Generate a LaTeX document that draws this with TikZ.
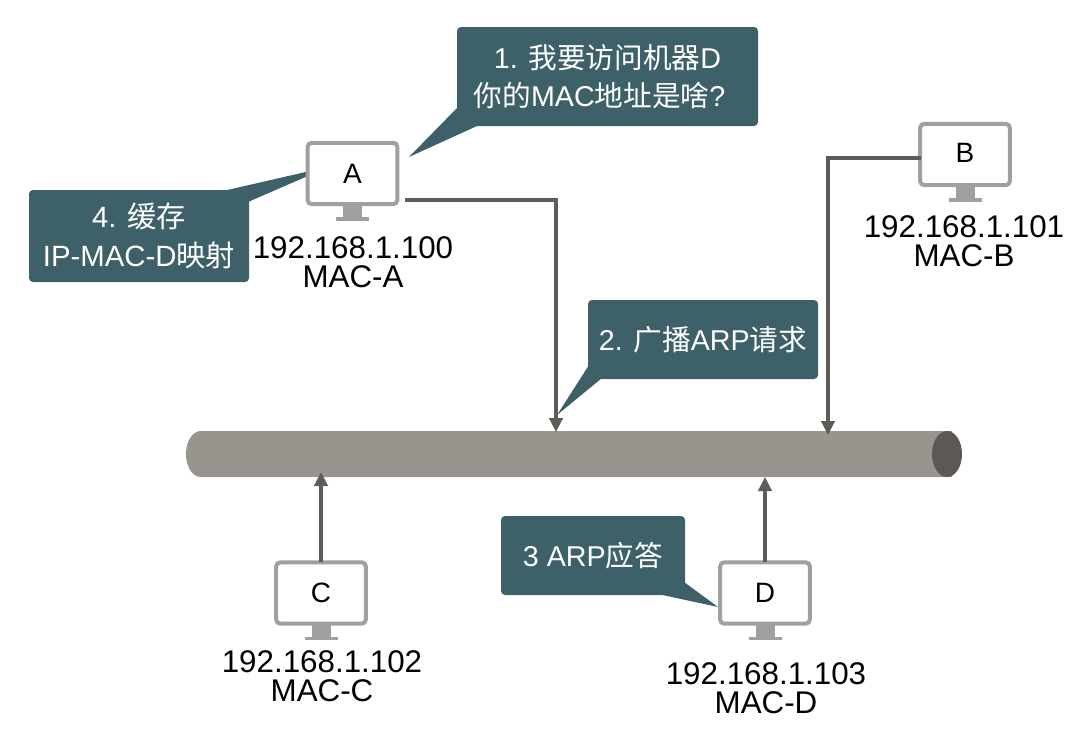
\documentclass[tikz,border=0pt]{standalone}
\usepackage{fontspec}
\usetikzlibrary{arrows.meta,shapes.geometric}
\setmainfont{Liberation Sans}
\newfontfamily\cjk{Noto Sans CJK SC}
\definecolor{teal1}{HTML}{3E6068}
\definecolor{busc}{HTML}{98948E}
\definecolor{busd}{HTML}{5C5853}
\definecolor{linec}{HTML}{5F5B57}
\definecolor{monc}{HTML}{A0A0A0}
\tikzset{
  monitor/.style={draw=monc,fill=white,line width=3pt,rounded corners=3pt,minimum width=67.2pt,minimum height=46pt,inner sep=0pt,outer sep=0pt,font=\fontsize{21}{24}\selectfont},
  bubble/.style={fill=teal1,rounded corners=3pt,inner sep=0pt,outer sep=0pt,text=white,align=center,font=\fontsize{21.5}{29}\selectfont},
  tail/.style={fill=teal1},
  addr/.style={align=center,inner sep=0pt,font=\fontsize{23.5}{22}\selectfont},
  wire/.style={draw=linec,fill=linec,line width=2.4pt},
  conn/.style={wire,-{Triangle[length=10.5pt,width=10pt]}},
}
\newcommand{\monstand}[2]{%
  \fill[monc] (#1-9.5,#2+30) rectangle (#1+9.5,#2+44);
  \fill[monc] (#1-16.5,#2+43.5) rectangle (#1+16.5,#2+47);
}
\begin{document}
\begin{tikzpicture}[x=0.75pt,y=-0.75pt]
\useasboundingbox (0,0) rectangle (1078,740);
% bus
\fill[busc] (201,431) -- (952,431) -- (952,477) -- (201,477) .. controls (192,477) and (186,466) .. (186,454) .. controls (186,442) and (192,431) .. (201,431) -- cycle;
\node[fill=busd,ellipse,minimum width=22.5pt,minimum height=34.5pt,inner sep=0pt] (busend) at (947,454) {};
\coordinate (busA) at (556,432);
\coordinate (busB) at (828,435);
\coordinate (busC) at (321,472);
\coordinate (busD) at (765,477);
% tails
\fill[tail] (457,108) -- (409,157) -- (477,126) -- (490,100) -- cycle;
\fill[tail] (223,191) -- (310,171) -- (310,175) -- (248,202) -- cycle;
\fill[tail] (589,365) -- (557,415) -- (602,378) -- (620,350) -- cycle;
\fill[tail] (684,582) -- (718,607) -- (658,594) -- (650,560) -- cycle;
% bubbles
\node[bubble,minimum width=225.75pt,minimum height=74.25pt] (b1) at (607.5,76.5) {1. {\cjk 我要访问机器}D\\{\cjk 你的}MAC{\cjk 地址是啥}?\hspace*{12pt}};
\node[bubble,minimum width=165pt,minimum height=69pt,font=\fontsize{22}{29.5}\selectfont] (b4) at (139,236) {4. {\cjk 缓存}\\IP-MAC-D{\cjk 映射}};
\node[bubble,minimum width=172.5pt,minimum height=59.25pt] (b2) at (703,339.5) {2. {\cjk 广播}ARP{\cjk 请求}};
\node[bubble,minimum width=138pt,minimum height=59.25pt] (b3) at (593,555.5) {3 ARP{\cjk 应答}};
% monitors
\monstand{352.5}{173.5}
\monstand{965}{154.5}
\monstand{321}{593}
\monstand{765}{593}
\node[monitor] (A) at (352.5,173.5) {A};
\node[monitor] (B) at (965,154.5) {\raisebox{2pt}{B}};
\node[monitor] (C) at (321,593) {C};
\node[monitor] (D) at (765,593) {D};
% labels
\node[addr] (la) at (353,262) {192.168.1.100\\MAC-A};
\node[addr] (lb) at (964,241) {192.168.1.101\\MAC-B};
\node[addr] (lc) at (322,676) {192.168.1.102\\MAC-C};
\node[addr] (ld) at (766,688) {192.168.1.103\\MAC-D};
% connectors
\coordinate (Aout) at (407,200);
\coordinate (Bout) at (919,158);
\coordinate (Acorner) at (Aout -| busA);
\coordinate (Bcorner) at (Bout -| busB);
\draw[wire,line cap=rect] (Aout) -- (Acorner);
\draw[conn] (Acorner) -- (busA);
\draw[wire,line cap=rect] (Bout) -- (Bcorner);
\draw[conn] (Bcorner) -- (busB);
\draw[conn] (C.north) -- (busC);
\draw[conn] (D.north) -- (busD);
\end{tikzpicture}
\end{document}
